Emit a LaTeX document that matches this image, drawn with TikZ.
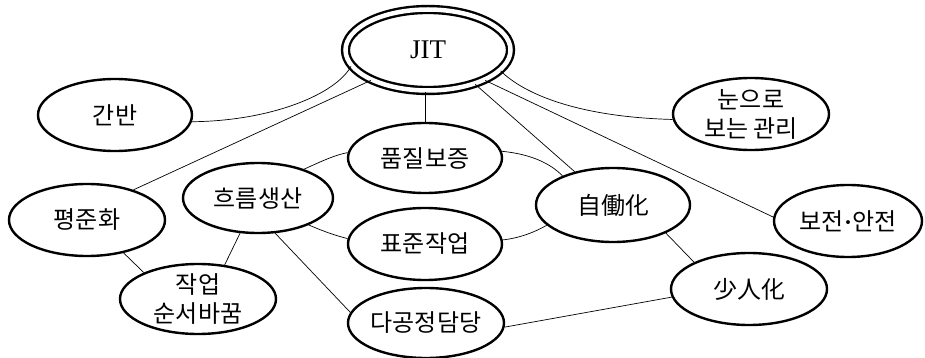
\documentclass[tikz,border=0pt]{standalone}
\usepackage{fontspec}
\setmainfont{Liberation Serif}
\newfontfamily\kr{Noto Sans CJK KR}
\usetikzlibrary{shapes.geometric}
\begin{document}
\begin{tikzpicture}[x=1pt,y=-1pt,
  oval/.style={ellipse, draw, line width=2.4pt, inner sep=-4pt, align=center,
    font=\kr\fontsize{24}{29}\selectfont},
  link/.style={line width=0.7pt}]
\useasboundingbox (0,0) rectangle (925,358);
% nodes
\node[oval, double, double distance=4.5pt, line width=2.4pt,
      minimum width=165pt, minimum height=81pt,
      font=\fontsize{27}{30}\selectfont] (jit) at (428,50) {JIT};
\node[oval, minimum width=154pt, minimum height=72pt] (kb)  at (115,115) {간반};
\node[oval, minimum width=156pt, minimum height=72pt] (pj)  at (87,220)  {평준화};
\node[oval, minimum width=150pt, minimum height=70pt] (hr)  at (258,198) {흐름생산};
\node[oval, minimum width=156pt, minimum height=70pt] (jak) at (198,299) {작업\\순서바꿈};
\node[oval, minimum width=154pt, minimum height=70pt] (pq)  at (425,158) {품질보증};
\node[oval, minimum width=154pt, minimum height=72pt] (pjj) at (425,244) {표준작업};
\node[oval, minimum width=154pt, minimum height=74pt] (jd)  at (613,205) {自働化};
\node[oval, minimum width=156pt, minimum height=72pt] (nun) at (751,114) {눈으로\\보는 관리};
\node[oval, minimum width=148pt, minimum height=72pt] (bj)  at (848,221) {보전{\rmfamily\bfseries ·}안전};
\node[oval, minimum width=156pt, minimum height=72pt] (so)  at (749,289) {少人化};
\node[oval, minimum width=156pt, minimum height=70pt] (dg)  at (426,323) {다공정담당};
% connectors from JIT
\draw[link] (kb.355) .. controls (270,121) and (335,95) .. (jit.192);
\draw[link] (jit.208) -- (pj.33);
\draw[link] (pq.north |- jit.south) -- (pq.north);
\draw[link] (jit.324) -- (jd.139);
\draw[link] (jit.332) -- (bj.177);
\draw[link] (jit.344) .. controls (525,95) and (580,117) .. (nun.184);
% ring around quality / standard work
\draw[link] (hr.32) .. controls (322,161) and (335,155) .. (pq.176);
\draw[link] (hr.332) .. controls (325,232) and (337,236) .. (pjj.176);
\draw[link] (pq.5) .. controls (530,154) and (550,163) .. (jd.150);
\draw[link] (pjj.3) .. controls (520,238) and (535,232) .. (jd.197);
% others
\draw[link] (hr.243) -- (jak.52);
\draw[link] (pj.318) -- (jak.154);
\draw[link] (hr.296) -- (dg.172);
\draw[link] (jd.332) -- (so.154);
\draw[link] (dg.357) -- (so.186);
\end{tikzpicture}
\end{document}
